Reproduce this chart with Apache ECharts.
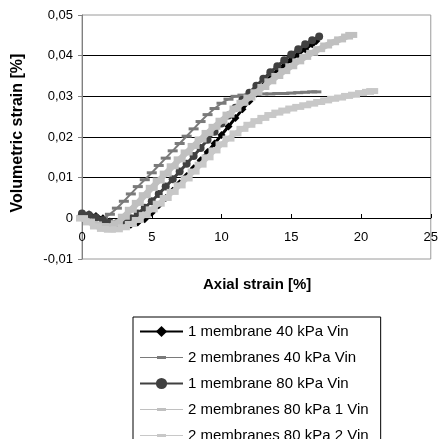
<!DOCTYPE html>
<html>
<head>
<meta charset="utf-8">
<script src="https://cdn.jsdelivr.net/npm/echarts@6/dist/echarts.min.js"></script>
<style>
  html, body { margin: 0; padding: 0; background: #fff; }
  #chart { width: 441px; height: 439px; }
</style>
</head>
<body>
<div id="chart"></div>
<script>
// Axis ticks
const xTickLabels = ['0', '5', '10', '15', '20', '25'];
const yTickLabels = ['-0,01', '0', '0,01', '0,02', '0,03', '0,04', '0,05'];

const seriesNames = [
  '1 membrane 40 kPa Vin',
  '2 membranes 40 kPa Vin',
  '1 membrane 80 kPa Vin',
  '2 membranes 80 kPa 1 Vin',
  '2 membranes 80 kPa 2 Vin'
];

// 1 membrane 40 kPa Vin
const m1p40X = [0,0.5,1,1.5,2,2.5,3,3.5,4,4.5,5,5.5,6,6.5,7,7.5,8,8.5,9,9.5,10,10.5,11,11.5,12,12.5,13,13.5,14,14.5,15,15.5,16,16.5,16.8];
const m1p40Y = [0.0010,0.0010,0.0006,0.0000,-0.0008,-0.0014,-0.0018,-0.0016,-0.0010,-0.0002,0.0014,0.0032,0.0050,0.0068,0.0086,0.0104,0.0123,0.0143,0.0163,0.0184,0.0205,0.0226,0.0247,0.0268,0.0288,0.0307,0.0326,0.0344,0.0360,0.0375,0.0390,0.0403,0.0416,0.0428,0.0436];

// 2 membranes 40 kPa Vin
const m2p40X = [0,0.5,1,1.5,2,2.5,3,3.5,4,4.5,5,5.5,6,6.5,7,7.5,8,8.5,9,9.5,10,10.5,11,11.5,12,12.5,13,13.5,14,14.5,15,15.5,16,16.5,16.8];
const m2p40Y = [0.0005,0.0002,-0.0002,0.0000,0.0010,0.0025,0.0042,0.0060,0.0078,0.0095,0.0112,0.0130,0.0148,0.0166,0.0184,0.0202,0.0220,0.0238,0.0255,0.0270,0.0283,0.0293,0.0300,0.0303,0.0304,0.0305,0.0306,0.0306,0.0307,0.0307,0.0308,0.0309,0.0310,0.0311,0.0311];

// 1 membrane 80 kPa Vin
const m1p80X = [0,0.5,1,1.5,2,2.5,3,3.5,4,4.5,5,5.5,6,6.5,7,7.5,8,8.5,9,9.5,10,10.5,11,11.5,12,12.5,13,13.5,14,14.5,15,15.5,16,16.5,17];
const m1p80Y = [0.0012,0.0008,0.0002,-0.0005,-0.0010,-0.0012,-0.0008,0.0000,0.0012,0.0026,0.0042,0.0060,0.0078,0.0096,0.0115,0.0134,0.0153,0.0173,0.0193,0.0213,0.0233,0.0253,0.0272,0.0291,0.0309,0.0326,0.0343,0.0359,0.0374,0.0389,0.0403,0.0416,0.0428,0.0438,0.0447];

// 2 membranes 80 kPa 1 Vin
const m2p80aX = [0,0.5,1,1.5,2,2.5,3,3.5,4,4.5,5,5.5,6,6.5,7,7.5,8,8.5,9,9.5,10,10.5,11,11.5,12,12.5,13,13.5,14,14.5,15,15.5,16,16.5,17,17.5,18,18.5,19,19.3];
const m2p80aY = [0.0000,-0.0008,-0.0015,-0.0019,-0.0020,-0.0012,0.0004,0.0021,0.0038,0.0057,0.0075,0.0093,0.0110,0.0128,0.0145,0.0162,0.0178,0.0194,0.0210,0.0225,0.0240,0.0255,0.0270,0.0284,0.0297,0.0310,0.0323,0.0337,0.0350,0.0362,0.0374,0.0386,0.0397,0.0407,0.0416,0.0425,0.0433,0.0440,0.0447,0.0451];

// 2 membranes 80 kPa 2 Vin
const m2p80bX = [0,0.5,1,1.5,2,2.5,3,3.5,4,4.5,5,5.5,6,6.5,7,7.5,8,8.5,9,9.5,10,10.5,11,11.5,12,12.5,13,13.5,14,14.5,15,15.5,16,16.5,17,17.5,18,18.5,19,19.5,20,20.5,20.8];
const m2p80bY = [0.0000,-0.0010,-0.0020,-0.0026,-0.0028,-0.0027,-0.0022,-0.0014,-0.0004,0.0008,0.0022,0.0036,0.0050,0.0065,0.0081,0.0098,0.0115,0.0132,0.0150,0.0167,0.0182,0.0196,0.0209,0.0220,0.0230,0.0239,0.0247,0.0254,0.0260,0.0265,0.0270,0.0274,0.0278,0.0282,0.0286,0.0290,0.0294,0.0297,0.0301,0.0304,0.0308,0.0311,0.0313];

const pairs = (xs, ys) => xs.map((x, i) => [x, ys[i]]);

const FONT = 'Arial, "Liberation Sans", sans-serif';

// Legend key for the dash-marker series: a thin line with a short dash in its middle
const dashKey = 'path://M0,6.5L43,6.5L43,7.5L0,7.5Z M17,5.5L26,5.5L26,8.5L17,8.5Z';

const chart = echarts.init(document.getElementById('chart'), null, { renderer: 'canvas' });

chart.setOption({
  animation: false,
  backgroundColor: '#ffffff',
  textStyle: { fontFamily: FONT },
  grid: {
    left: 82, right: 9, top: 15, bottom: 180,
    show: true, borderColor: '#9a9a9a', borderWidth: 1, backgroundColor: 'transparent'
  },
  xAxis: {
    type: 'value', min: 0, max: 25, interval: 5,
    // the horizontal axis crosses at y = 0, a sixth of the plot height above the bottom edge
    offset: -41,
    axisLine: { onZero: false, lineStyle: { color: '#000', width: 1 } },
    axisTick: { inside: true, length: 4, lineStyle: { color: '#000' } },
    axisLabel: {
      margin: 13, fontSize: 13, color: '#000', fontFamily: FONT,
      formatter: v => xTickLabels[Math.round(v / 5)]
    },
    splitLine: { show: false }
  },
  yAxis: {
    type: 'value', min: -0.01, max: 0.05, interval: 0.01,
    axisLine: { show: true, onZero: false, lineStyle: { color: '#808080', width: 1 } },
    axisTick: { show: true, length: 4, lineStyle: { color: '#808080' } },
    axisLabel: {
      margin: 9, fontSize: 13, color: '#000', fontFamily: FONT,
      formatter: v => yTickLabels[Math.round(v * 100) + 1]
    },
    splitLine: { show: true, showMinLine: false, showMaxLine: false, lineStyle: { color: '#000', width: 1 } }
  },
  legend: {
    orient: 'vertical', left: 133, top: 317, height: 160,
    padding: [7, 12, 8, 6],
    itemWidth: 43, itemHeight: 14, itemGap: 11,
    borderColor: '#000', borderWidth: 1, backgroundColor: '#fff',
    lineStyle: { width: 2 },
    textStyle: { fontSize: 15, color: '#000', fontFamily: FONT },
    data: [
      { name: seriesNames[0] },
      { name: seriesNames[1], icon: dashKey },
      { name: seriesNames[2] },
      { name: seriesNames[3], icon: dashKey },
      { name: seriesNames[4], icon: dashKey }
    ]
  },
  graphic: [
    {
      type: 'text', left: 203, top: 277,
      style: { text: 'Axial strain [%]', font: 'bold 15px ' + FONT, fill: '#000' }
    },
    {
      type: 'text', x: 18, y: 133, rotation: Math.PI / 2,
      style: { text: 'Volumetric strain [%]', font: 'bold 16px ' + FONT, fill: '#000', align: 'center', verticalAlign: 'middle' }
    }
  ],
  series: [
    {
      name: seriesNames[0], type: 'line', data: pairs(m1p40X, m1p40Y),
      symbol: 'diamond', symbolSize: 8, showAllSymbol: true,
      lineStyle: { color: '#000', width: 3 }, itemStyle: { color: '#000' }, z: 2
    },
    {
      name: seriesNames[1], type: 'line', data: pairs(m2p40X, m2p40Y),
      symbol: 'rect', symbolSize: [10, 3], showAllSymbol: true,
      lineStyle: { color: '#7a7a7a', width: 2 }, itemStyle: { color: '#7a7a7a' }, z: 3
    },
    {
      name: seriesNames[2], type: 'line', data: pairs(m1p80X, m1p80Y),
      symbol: 'circle', symbolSize: 8, showAllSymbol: true,
      lineStyle: { color: '#404040', width: 3 }, itemStyle: { color: '#404040' }, z: 4
    },
    {
      name: seriesNames[3], type: 'line', data: pairs(m2p80aX, m2p80aY),
      symbol: 'rect', symbolSize: [12, 6], showAllSymbol: true,
      lineStyle: { color: '#c0c0c0', width: 6 }, itemStyle: { color: '#c0c0c0' }, z: 5
    },
    {
      name: seriesNames[4], type: 'line', data: pairs(m2p80bX, m2p80bY),
      symbol: 'rect', symbolSize: [12, 6], showAllSymbol: true,
      lineStyle: { color: '#c8c8c8', width: 5 }, itemStyle: { color: '#c8c8c8' }, z: 6
    }
  ]
});
</script>
</body>
</html>
